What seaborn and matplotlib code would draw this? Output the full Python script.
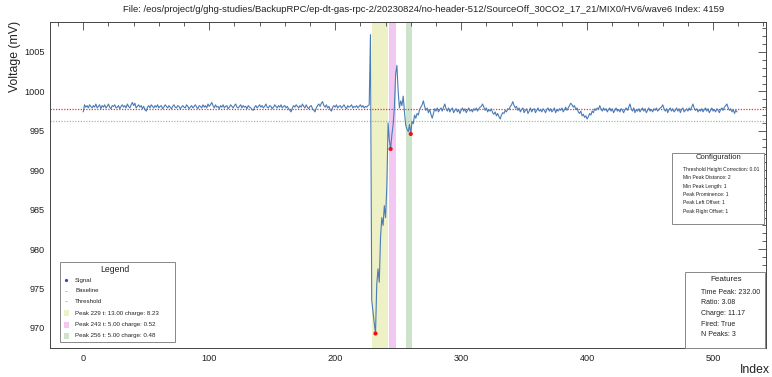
import numpy as np
import pandas as pd
import matplotlib
matplotlib.use("Agg")
import matplotlib.pyplot as plt
import seaborn as sns
from matplotlib.ticker import MultipleLocator
from matplotlib.patches import Rectangle
from matplotlib.lines import Line2D

# ---------------- data ----------------
title = ("File: /eos/project/g/ghg-studies/BackupRPC/ep-dt-gas-rpc-2/20230824/"
         "no-header-512/SourceOff_30CO2_17_21/MIX0/HV6/wave6 Index: 4159")

signal_pre = [
    997.4, 998.3, 998.0, 998.2, 997.9, 998.3, 998.1, 997.9, 998.2, 998.0, 998.4, 997.9, 998.1, 998.3, 997.8, 998.2, 998.0, 998.3, 997.9, 998.1,
    998.4, 998.0, 997.8, 998.2, 998.1, 998.3, 997.9, 998.0, 998.2, 997.8, 998.1, 998.3, 998.0, 998.2, 997.9, 998.4, 998.1, 997.9, 998.3, 998.6,
    998.2, 998.5, 997.9, 998.1, 998.3, 998.0, 998.2, 997.8, 998.1, 997.7, 997.5, 998.0, 998.2, 997.9, 998.3, 998.1, 997.9, 998.2, 998.0, 998.3,
    997.9, 998.1, 998.2, 997.8, 998.0, 998.3, 998.1, 997.9, 998.2, 998.0, 997.8, 998.1, 998.3, 998.0, 997.9, 998.2, 998.1, 997.8, 998.0, 998.2,
    998.0, 997.9, 998.3, 998.1, 997.8, 998.0, 998.2, 997.9, 998.1, 998.3, 998.0, 997.8, 998.2, 998.1, 997.9, 998.3, 998.0, 998.2, 997.9, 998.4,
    998.1, 998.3, 998.6, 998.2, 997.9, 998.3, 998.0, 998.1, 997.8, 998.2, 998.0, 998.3, 997.9, 998.1, 998.2, 997.8, 998.0, 998.3, 998.1, 997.9,
    998.2, 998.4, 998.0, 997.9, 998.1, 998.3, 997.9, 998.2, 998.0, 998.1, 997.8, 998.2, 998.0, 997.9, 997.7, 997.6, 998.0, 998.2, 997.9, 998.1,
    998.3, 998.0, 998.2, 997.9, 998.1, 998.4, 998.0, 997.9, 998.2, 998.1, 997.8, 998.0, 998.3, 998.1, 997.9, 998.2, 998.0, 998.3, 997.9, 998.1,
    998.2, 997.9, 998.1, 997.8, 997.6, 997.4, 997.9, 998.2, 998.0, 998.3, 998.1, 997.9, 998.2, 998.0, 998.4, 998.1, 997.9, 998.3, 998.0, 997.8,
    998.1, 998.2, 997.8, 997.6, 997.4, 997.9, 998.2, 998.4, 998.1, 998.5, 998.7, 998.2, 998.0, 998.3, 997.9, 998.1, 997.7, 997.5, 998.0, 998.2,
    998.0, 998.3, 997.9, 998.1, 998.2, 997.9, 998.1, 998.3, 998.0, 997.8, 998.2, 998.0, 998.1, 998.3, 997.9, 998.1, 998.0, 998.2, 997.9, 998.1,
    998.3, 998.0, 998.2, 997.9, 998.1, 998.0, 998.2, 998.3,
]
signal_pulse = [
    1007.2, 973.5, 972.0, 970.6, 969.3, 975.5, 977.5, 975.8, 981.5, 984.0,
    983.0, 985.5, 984.0, 988.0, 996.0, 993.8, 992.7, 994.5, 995.8, 998.0,
    1002.2, 1003.3, 1000.0, 997.9, 998.8, 998.2, 999.4, 997.4, 995.7, 995.2,
    994.9, 995.8, 994.6, 996.2, 995.9, 997.0, 996.6, 997.2, 997.0, 997.7,
    998.0, 998.3, 998.8,
]
signal_post = [
    998.1, 997.6, 997.9, 997.3, 997.7, 997.1, 996.6, 997.2, 997.8, 997.5, 997.9, 997.4, 997.7, 997.9, 997.5, 998.0, 998.4, 997.8, 997.5, 997.9,
    997.4, 997.7, 997.9, 997.3, 997.6, 997.8, 997.4, 997.7, 997.2, 997.6, 997.9, 997.5, 997.8, 997.3, 997.6, 997.9, 997.5, 997.7, 997.4, 997.8,
    997.6, 997.9, 997.5, 997.8, 998.0, 998.1, 998.4, 998.0, 997.6, 997.9, 997.4, 997.7, 997.5, 997.8, 997.3, 997.1, 997.4, 996.9, 997.2, 996.8,
    996.5, 997.0, 997.3, 997.2, 997.6, 997.4, 997.8, 997.7, 998.1, 998.3, 998.7, 998.2, 997.9, 998.1, 997.6, 997.9, 997.4, 997.7, 997.9, 997.3,
    997.6, 997.8, 997.2, 997.5, 997.9, 997.4, 997.7, 997.8, 997.3, 997.6, 997.9, 997.5, 997.7, 997.4, 997.8, 997.6, 997.3, 997.7, 997.9, 997.5,
    997.8, 997.4, 997.6, 997.9, 997.3, 997.7, 997.5, 997.8, 997.6, 997.9, 997.4, 997.7, 998.0, 997.6, 997.9, 998.2, 998.5, 998.3, 998.0, 998.2,
    997.7, 997.9, 997.4, 997.2, 997.5, 996.9, 997.1, 996.7, 996.9, 996.5, 996.8, 997.2, 997.0, 997.5, 997.3, 997.8, 997.6, 997.9, 997.7, 998.2,
    997.8, 997.5, 997.9, 997.6, 997.8, 997.4, 997.7, 997.9, 997.5, 997.8, 997.3, 997.6, 997.9, 997.5, 997.7, 997.4, 997.8, 997.6, 997.3, 997.7,
    997.9, 997.6, 998.0, 998.4, 997.8, 997.5, 997.9, 997.3, 997.7, 997.5, 997.8, 997.4, 997.7, 997.9, 997.5, 997.8, 997.3, 997.6, 997.9, 997.5,
    997.7, 997.4, 997.8, 997.6, 997.9, 997.5, 997.7, 997.9, 998.0, 998.3, 997.8, 997.5, 997.8, 997.3, 997.7, 997.9, 997.5, 997.8, 997.4, 997.6,
    997.9, 997.5, 997.8, 997.3, 997.7, 997.9, 997.4, 997.6, 997.8, 997.5, 997.9, 997.6, 998.0, 998.4, 997.9, 997.6, 997.8, 997.4, 997.7, 997.5,
    997.8, 997.4, 997.7, 997.9, 997.5, 997.8, 997.3, 997.6, 997.9, 997.5, 997.7, 997.4, 997.8, 997.6, 997.3, 997.7, 997.9, 997.6, 998.0, 998.2,
    998.4, 997.9, 997.6, 997.8, 997.4, 997.7, 997.2, 997.6, 997.4,
]
signal = signal_pre + signal_pulse + signal_post
index = list(range(len(signal)))

baseline = 997.8
threshold = 996.3

peak_starts = [229, 243, 256]
peak_widths = [13, 5, 5]
peak_charges = [8.23, 0.52, 0.48]
peak_min_idx = [232, 244, 260]
peak_colors = ["#eef0c6", "#f2c8f2", "#cde3cb"]

config_lines = ["Threshold Height Correction: 0.01", "Min Peak Distance: 2",
                "Min Peak Length: 1", "Peak Prominence: 1",
                "Peak Left Offset: 1", "Peak Right Offset: 1"]
feature_lines = ["Time Peak: 232.00", "Ratio: 3.08", "Charge: 11.17",
                 "Fired: True", "N Peaks: 3"]

# ---------------- style ----------------
sns.set_theme(style="white")
plt.rcParams["font.family"] = ["Liberation Sans", "DejaVu Sans"]

W, H = 772, 377
fig = plt.figure(figsize=(W / 100, H / 100), dpi=100)
L, R, T, B = 50, 766, 22, 348
ax = fig.add_axes([L / W, 1 - B / H, (R - L) / W, (B - T) / H])

def fx(x):
    return x / W

def fy(y):
    return 1 - y / H

for s, w, c in zip(peak_starts, peak_widths, peak_colors):
    ax.axvspan(s, s + w, color=c, lw=0, zorder=0)

ax.axhline(baseline, color="#e8323c", lw=0.9, ls=(0, (1, 1.2)), zorder=1)
ax.axhline(threshold, color="#98c0ae", lw=0.9, ls=(0, (1, 1.2)), zorder=1)

df = pd.DataFrame({"Index": index, "Voltage": signal})
sns.lineplot(data=df, x="Index", y="Voltage", ax=ax, color="#4a7cb8",
             lw=0.8, zorder=3)
pk = df.iloc[peak_min_idx]
sns.scatterplot(data=pk, x="Index", y="Voltage", ax=ax, color="#ee1111",
                s=9, marker="o", edgecolor="none", zorder=4)

ax.set_xlim(-26.4, 542)
ax.set_ylim(967.46, 1008.8)
ax.set_xlabel("")
ax.set_ylabel("")
ax.xaxis.set_major_locator(MultipleLocator(100))
ax.xaxis.set_minor_locator(MultipleLocator(20))
ax.yaxis.set_major_locator(MultipleLocator(5))
ax.yaxis.set_minor_locator(MultipleLocator(1))
ax.tick_params(which="both", direction="in", top=True, right=True,
               color="#444444", width=0.6, labelsize=6.6, labelcolor="#222222")
ax.tick_params(which="major", length=5.5, pad=4)
ax.tick_params(which="minor", length=2.8)
for sp in ax.spines.values():
    sp.set_color("#444444")
    sp.set_linewidth(0.7)

fig.text(fx(424), fy(10), title, ha="center", va="center", fontsize=6.8,
         color="#222222")
fig.text(fx(15), fy(T - 1), "Voltage (mV)", rotation=90, ha="center", va="top",
         fontsize=8.8, color="#222222")
fig.text(fx(770), fy(370), "Index", ha="right", va="center", fontsize=8.8,
         color="#222222")

def box(x0, y0, x1, y1):
    fig.patches.append(Rectangle((fx(x0), fy(y1)), fx(x1) - fx(x0), fy(y0) - fy(y1),
                                 transform=fig.transFigure, facecolor="white",
                                 edgecolor="#888888", lw=0.7, zorder=5))

# legend box
box(60, 262, 175, 342)
fig.text(fx(115), fy(269), "Legend", ha="center", va="center", fontsize=6.2,
         color="#222222", zorder=6)
leg_labels = ["Signal", "Baseline", "Threshold"] + [
    f"Peak {s} t: {w:.2f} charge: {c:.2f}"
    for s, w, c in zip(peak_starts, peak_widths, peak_charges)]
leg_y = [280.3, 290.5, 301.3, 313, 324.7, 336]
for lab, y in zip(leg_labels, leg_y):
    fig.text(fx(75), fy(y), lab, ha="left", va="center", fontsize=4.4,
             color="#222222", zorder=6)
fig.add_artist(Line2D([fx(66)], [fy(280.3)], marker="o", ms=1.3, color="#3344cc",
                      ls="none", transform=fig.transFigure, zorder=6))
fig.add_artist(Line2D([fx(65), fx(67)], [fy(290.5)] * 2, color="#f0a0a8", lw=0.6,
                      transform=fig.transFigure, zorder=6))
fig.add_artist(Line2D([fx(65), fx(67)], [fy(301.3)] * 2, color="#b0c4bc", lw=0.6,
                      transform=fig.transFigure, zorder=6))
for c, y in zip(peak_colors, leg_y[3:]):
    fig.patches.append(Rectangle((fx(64), fy(y + 3.2)), fx(4.5), fy(0) - fy(6.4),
                                 transform=fig.transFigure, facecolor=c,
                                 edgecolor="none", zorder=6))

# configuration box
box(672, 153, 764, 224)
fig.text(fx(718), fy(157.5), "Configuration", ha="center", va="center",
         fontsize=5.5, color="#222222", zorder=6)
for lab, y in zip(config_lines, [169, 177.7, 186, 194.3, 202.7, 211]):
    fig.text(fx(683.3), fy(y), lab, ha="left", va="center", fontsize=3.6,
             color="#222222", zorder=6)

# features box
box(685, 272, 765, 348)
fig.text(fx(725.7), fy(279.7), "Features", ha="center", va="center",
         fontsize=5.8, color="#222222", zorder=6)
for lab, y in zip(feature_lines, [292, 303, 313.3, 324, 334.7]):
    fig.text(fx(701), fy(y), lab, ha="left", va="center", fontsize=5,
             color="#222222", zorder=6)

fig.savefig("out.png", dpi=100)
